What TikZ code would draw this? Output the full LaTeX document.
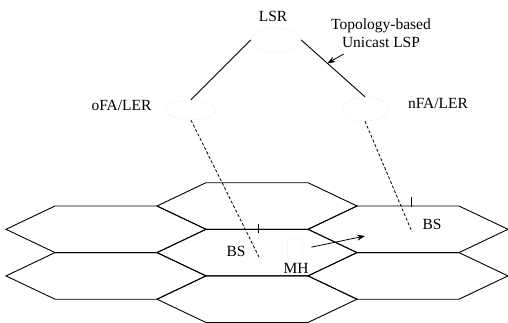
\documentclass[tikz,border=0pt]{standalone}
\usepackage{fontspec}
\setmainfont{Liberation Serif}
\usetikzlibrary{shapes.geometric,arrows.meta,positioning}

\tikzset{
  cell/.style={draw=black,line width=0.9pt},
  faint/.style={ellipse,draw=black!18,densely dotted,inner sep=0pt},
  link/.style={draw=black,line width=0.9pt},
  tunnel/.style={draw=black,densely dashed,line width=0.8pt},
  tick/.style={draw=black,line width=0.7pt}
}

\begin{document}
\begin{tikzpicture}[x=1pt,y=-1pt,every node/.style={font=\fontsize{15.5}{18}\selectfont}]
        \useasboundingbox (0,0) rectangle (508,323);

        % cells
        \draw[cell] (6,229.3)   -- ++(49,-23.3) -- ++(102,0) -- ++(49,23.3) -- ++(-49,23.3) -- ++(-102,0) -- cycle;
        \draw[cell] (6,275.9)   -- ++(49,-23.3) -- ++(102,0) -- ++(49,23.3) -- ++(-49,23.3) -- ++(-102,0) -- cycle;
        \draw[cell] (157,206.0) -- ++(49,-23.3) -- ++(102,0) -- ++(49,23.3) -- ++(-49,23.3) -- ++(-102,0) -- cycle;
        \draw[cell] (157,252.6) -- ++(49,-23.3) -- ++(102,0) -- ++(49,23.3) -- ++(-49,23.3) -- ++(-102,0) -- cycle;
        \draw[cell] (157,299.2) -- ++(49,-23.3) -- ++(102,0) -- ++(49,23.3) -- ++(-49,23.3) -- ++(-102,0) -- cycle;
        \draw[cell] (308,229.3) -- ++(49,-23.3) -- ++(102,0) -- ++(49,23.3) -- ++(-49,23.3) -- ++(-102,0) -- cycle;
        \draw[cell] (308,275.9) -- ++(49,-23.3) -- ++(102,0) -- ++(49,23.3) -- ++(-49,23.3) -- ++(-102,0) -- cycle;

        % routers
        \node[faint,minimum width=50pt,minimum height=24pt] (LSR) at (276,40)  {};
        \node[faint,minimum width=50pt,minimum height=20pt] (oFA) at (191,110) {};
        \node[faint,minimum width=46pt,minimum height=24pt] (nFA) at (365,109) {};

        \node (LSRtext) at (273,16)    {LSR};
        \node (oFAtext) at (121.5,105) {oFA/LER};
        \node (nFAtext) at (438,103)   {nFA/LER};
        \node[align=center] (LSPtext) at (381,33) {Topology-based\\Unicast LSP};

        % base stations and mobile host
        \coordinate (BSo) at (260,259);
        \coordinate (BSn) at (412,232);
        \node (BSotext) at (236,251) {BS};
        \node (BSntext) at (432,224) {BS};
        \node[draw=black!25,densely dotted,rounded corners=2pt,minimum width=15pt,minimum height=20pt,inner sep=0pt] (MH) at (295,249) {};
        \node (MHtext) at (296,268) {MH};
        \coordinate (MHto) at (365,236);

        \draw[tick] (258,224) -- (258,233);
        \draw[tick] (411,197) -- (411,207);

        \draw[link] (LSR.west) -- (oFA.north);
        \draw[link] (LSR.east) -- (nFA.north) coordinate[pos=0.41] (LSP);
        \draw[tunnel] (oFA.south) -- (BSo);
        \draw[tunnel] (nFA.south) -- (BSn);

        \draw[-{Stealth[length=8pt,width=6pt]},line width=0.8pt] (LSPtext.south west) ++(16,3) -- (LSP);
        \draw[-{Stealth[length=8pt,width=6pt]},line width=0.8pt,shorten <=9pt] (MH.east) -- (MHto);
      \end{tikzpicture}
\end{document}
